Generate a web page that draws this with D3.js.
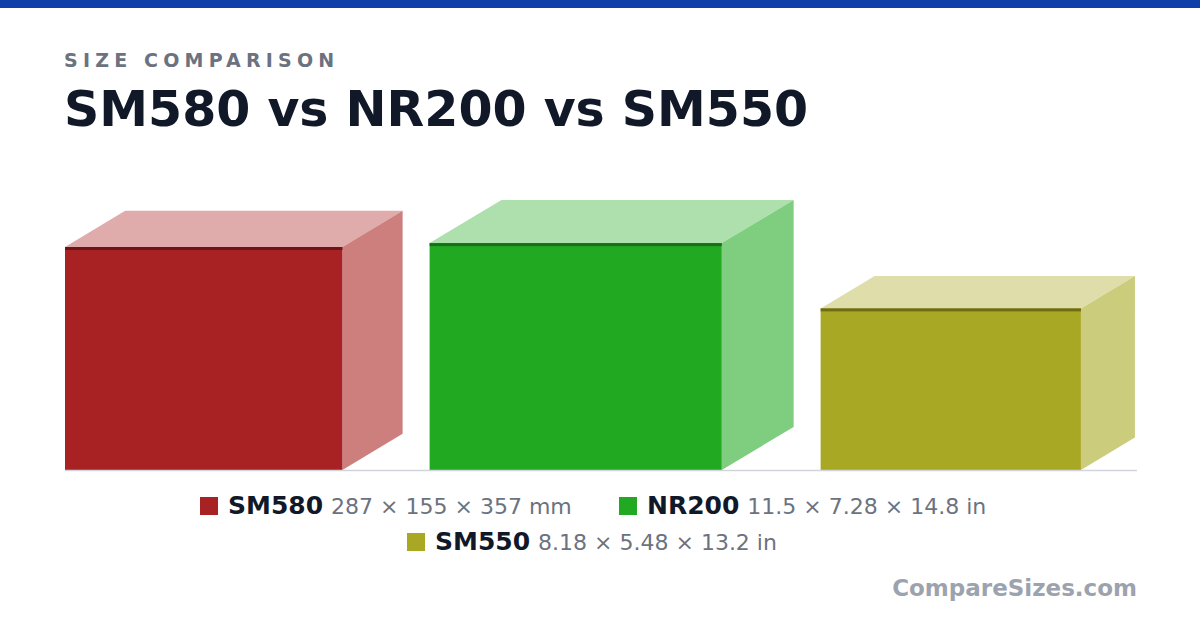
<!DOCTYPE html><html><head><meta charset="utf-8"><script src="https://cdn.jsdelivr.net/npm/d3@7"></script>
<style>body{margin:0;background:#fff}</style></head><body><svg id="c" width="1200" height="630"></svg>
<script>
const names=["SM580","NR200","SM550"];
const labels=["287 × 155 × 357 mm","11.5 × 7.28 × 14.8 in","8.18 × 5.48 × 13.2 in"];
const heightMM=[287,292,208];
const depthMM=[155,185,139];
const widthMM=[357,376,335];
const front=["#a82224","#22a922","#a9a824"],topC=["#dfabab","#ade0ad","#dfdeab"],sideC=["#cd7f7e","#7fcd7f","#cccc7d"],edge=["#6b1516","#167016","#6e6d14"];
const svg=d3.select("#c"),F="DejaVu Sans, sans-serif";
svg.append("rect").attr("width",1200).attr("height",8).attr("fill","#0f40aa");
svg.append("text").attr("x",64).attr("y",67).attr("font-family",F).attr("font-weight","bold").attr("font-size",19).attr("letter-spacing",5.2).attr("fill","#6b7280").text("SIZE COMPARISON");
svg.append("text").attr("x",64).attr("y",126).attr("font-family",F).attr("font-weight","bold").attr("font-size",49).attr("fill","#111827").text("SM580 vs NR200 vs SM550");
const base=470,s=0.777,gap=27;
const y=d3.scaleLinear().domain([0,1]).range([0,s]);
let x=65;
names.forEach((n,i)=>{
 const w=y(widthMM[i]),h=y(heightMM[i]),dx=y(depthMM[i])*0.5,dy=y(depthMM[i])*0.3,t=base-h;
 svg.append("polygon").attr("points",`${x},${t} ${x+dx},${t-dy} ${x+w+dx},${t-dy} ${x+w},${t}`).attr("fill",topC[i]);
 svg.append("polygon").attr("points",`${x+w},${t} ${x+w+dx},${t-dy} ${x+w+dx},${base-dy} ${x+w},${base}`).attr("fill",sideC[i]);
 svg.append("rect").attr("x",x).attr("y",t).attr("width",w).attr("height",h).attr("fill",front[i]);
 svg.append("rect").attr("x",x).attr("y",t).attr("width",w).attr("height",3).attr("fill",edge[i]);
 x+=w+dx+gap;
});
svg.append("line").attr("x1",65).attr("x2",1137).attr("y1",470.5).attr("y2",470.5).attr("stroke","#d1d5db").attr("stroke-width",1.5);
function leg(i,cx,cy){const g=svg.append("g");
 g.append("rect").attr("x",cx).attr("y",cy-17).attr("width",18).attr("height",18).attr("fill",front[i]);
 const t=g.append("text").attr("x",cx+28).attr("y",cy).attr("font-family",F).attr("font-size",22);
 t.append("tspan").attr("font-weight","bold").attr("font-size",25).attr("fill","#111827").text(names[i]);
 t.append("tspan").attr("fill","#6b7280").attr("dx",8).text(labels[i]);}
leg(0,200,514);leg(1,619,514);leg(2,407,550);
svg.append("text").attr("x",1137).attr("y",596).attr("text-anchor","end").attr("font-family",F).attr("font-weight","bold").attr("font-size",23).attr("fill","#9ca3af").text("CompareSizes.com");
</script></body></html>
